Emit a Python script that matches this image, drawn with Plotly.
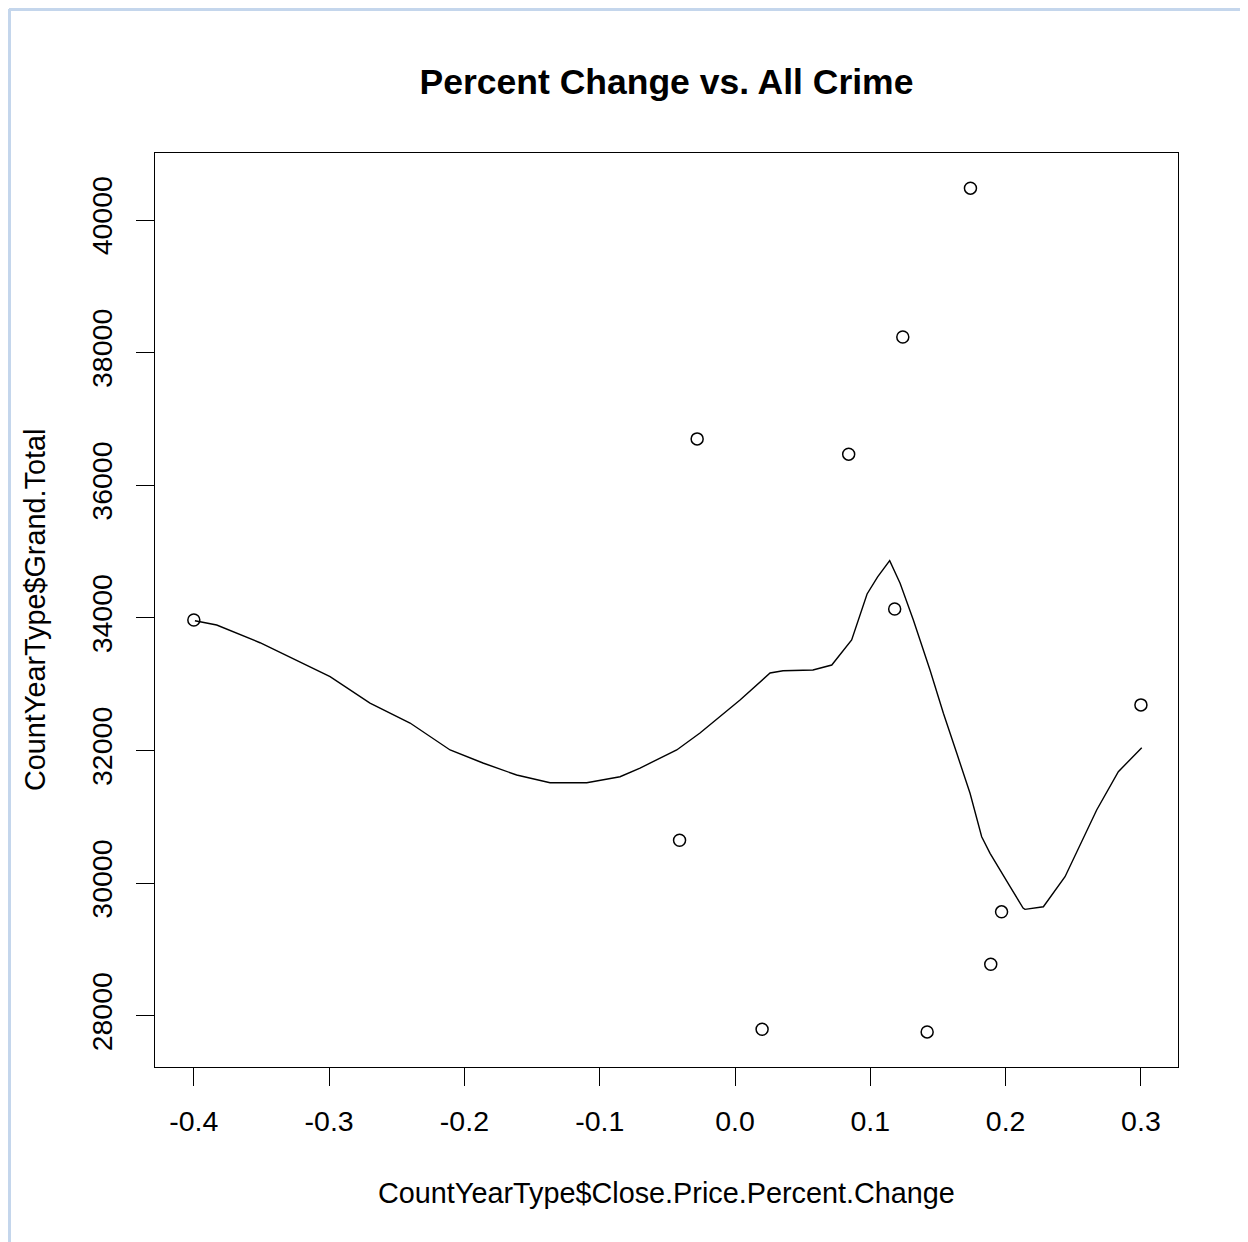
import plotly.graph_objects as go

# Scatter data
pct_change = [-0.400, -0.028, -0.041, 0.020, 0.084, 0.118, 0.124, 0.142, 0.174, 0.189, 0.197, 0.300]
grand_total = [33970, 36700, 30650, 27800, 36470, 34135, 38235, 27760, 40480, 28780, 29570, 32690]

# Smoothed curve
smooth_x = [-0.3992, -0.3831, -0.3511, -0.3267, -0.2993, -0.2698, -0.2402, -0.2106, -0.1863,
            -0.1614, -0.1367, -0.1096, -0.0850, -0.0702, -0.0431, -0.0259, -0.0111, 0.0037,
            0.0259, 0.0355, 0.0576, 0.0715, 0.0862, 0.0914, 0.0976, 0.1054, 0.1143, 0.1220,
            0.1318, 0.1441, 0.1540, 0.1639, 0.1737, 0.1823, 0.1885, 0.2033, 0.2129, 0.2143,
            0.2279, 0.2439, 0.2673, 0.2833, 0.3006]
smooth_y = [33959, 33894, 33627, 33382, 33115, 32718, 32417, 32010, 31814,
            31633, 31517, 31517, 31607, 31738, 32010, 32266, 32512, 32764,
            33171, 33205, 33216, 33291, 33668, 33970, 34362, 34621, 34865, 34523,
            33970, 33216, 32563, 31960, 31357, 30703, 30452, 29949, 29628, 29608,
            29647, 30100, 31105, 31683, 32044]

x_ticks = [-0.4, -0.3, -0.2, -0.1, 0.0, 0.1, 0.2, 0.3]
x_tick_labels = ["-0.4", "-0.3", "-0.2", "-0.1", "0.0", "0.1", "0.2", "0.3"]
y_ticks = [28000, 30000, 32000, 34000, 36000, 38000, 40000]
y_tick_labels = ["28000", "30000", "32000", "34000", "36000", "38000", "40000"]

FONT = "Liberation Sans, Arial, sans-serif"

fig = go.Figure()
fig.add_trace(go.Scatter(
    x=pct_change, y=grand_total, mode="markers",
    marker=dict(symbol="circle-open", size=12, color="black", line=dict(width=1.5, color="black")),
    showlegend=False, hoverinfo="x+y"))
fig.add_trace(go.Scatter(
    x=smooth_x, y=smooth_y, mode="lines",
    line=dict(color="black", width=1.4),
    showlegend=False))

fig.update_layout(
    width=1248, height=1242,
    margin=dict(l=147, r=78, t=145, b=183),
    paper_bgcolor="white", plot_bgcolor="white",
    font=dict(family=FONT, color="black", size=28.5),
    title=dict(text="<b>Percent Change vs. All Crime</b>", x=0.5, xref="paper",
               y=1 - 74 / 1242, yref="container", yanchor="middle", xanchor="center",
               font=dict(size=35.5, family=FONT, color="black")),
)
fig.update_xaxes(
    range=[-0.4287, 0.3274], tickvals=x_ticks, ticktext=x_tick_labels,
    showgrid=False, zeroline=False, showline=True, linecolor="black", linewidth=1.4,
    mirror=True, ticks="outside", ticklen=18, tickwidth=1.4, tickcolor="black",
    tickfont=dict(size=28.5, family=FONT), ticklabelstandoff=11,
)
fig.update_yaxes(
    range=[27231, 41010], tickvals=y_ticks, ticktext=y_tick_labels, tickangle=-90,
    showgrid=False, zeroline=False, showline=True, linecolor="black", linewidth=1.4,
    mirror=True, ticks="outside", ticklen=18, tickwidth=1.4, tickcolor="black",
    tickfont=dict(size=28.5, family=FONT), ticklabelstandoff=12,
)

fig.add_annotation(text="CountYearType$Close.Price.Percent.Change", xref="paper", yref="paper",
                   x=0.5, y=-(1193 - 1067) / 914, xanchor="center", yanchor="middle",
                   showarrow=False, font=dict(size=28.8, family=FONT, color="black"))
fig.add_annotation(text="CountYearType$Grand.Total", xref="paper", yref="paper",
                   x=(35 - 155) / 1023, y=(1067 - 610) / 914, xanchor="center", yanchor="middle",
                   textangle=-90, showarrow=False, font=dict(size=28.8, family=FONT, color="black"))

# light blue frame of the original screenshot
fig.add_shape(type="line", xref="paper", yref="paper",
              x0=(9 - 155) / 1023, x1=(1260 - 155) / 1023, y0=(1067 - 9.5) / 914, y1=(1067 - 9.5) / 914,
              line=dict(color="#c4d6ec", width=3))
fig.add_shape(type="line", xref="paper", yref="paper",
              x0=(9.5 - 155) / 1023, x1=(9.5 - 155) / 1023, y0=(1067 - 9) / 914, y1=(1067 - 1260) / 914,
              line=dict(color="#c4d6ec", width=3))

fig.write_html("out.html")
